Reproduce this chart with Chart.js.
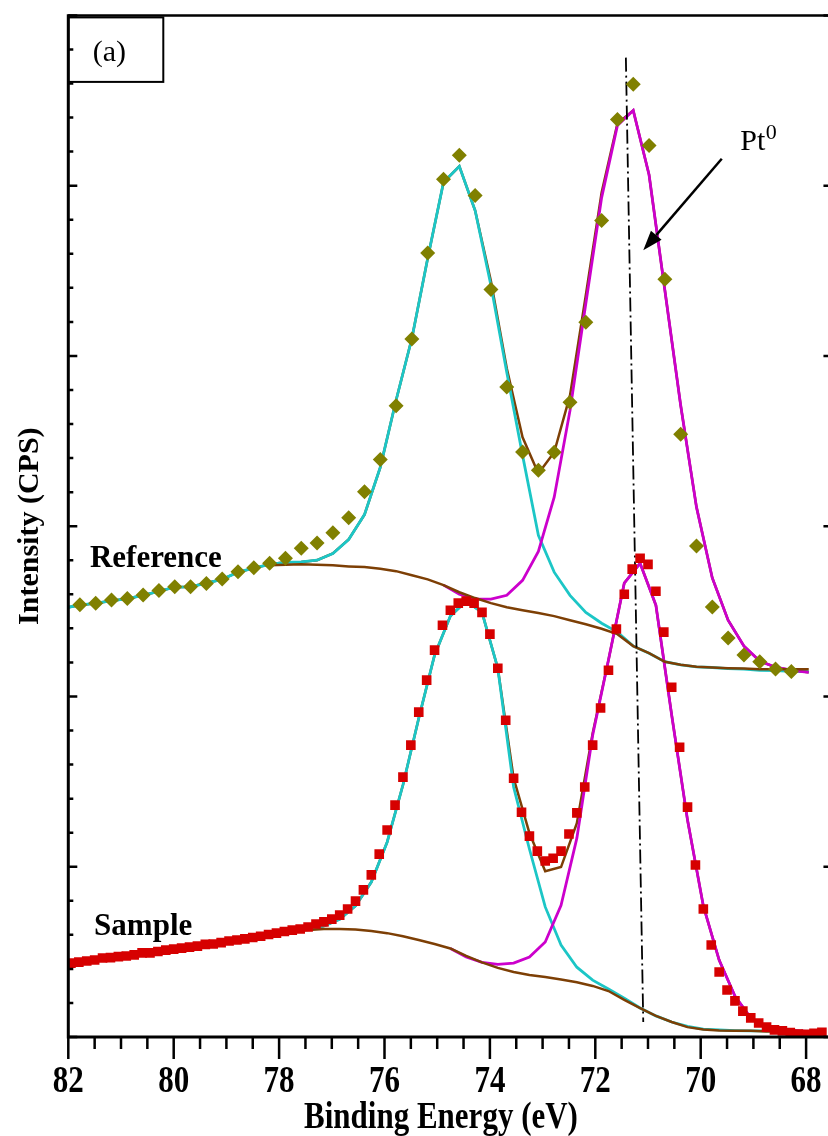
<!DOCTYPE html>
<html>
<head>
<meta charset="utf-8">
<script src="https://cdn.jsdelivr.net/npm/chart.js@4/dist/chart.umd.min.js"></script>
<style>
  html, body { margin: 0; padding: 0; background: #fff; overflow: hidden; width: 828px; height: 1136px; }
  #wrap { position: relative; width: 840px; height: 1136px; }
</style>
</head>
<body>
<div id="wrap"><canvas id="xps" width="840" height="1136"></canvas></div>
<script>
// Pt 4f XPS spectra: binding energy (eV) against intensity (arbitrary units)

// x axis tick labels
const xTickLabels = [82, 80, 78, 76, 74, 72, 70, 68];

// Reference: measured points
const refX = [81.78, 81.48, 81.18, 80.88, 80.58, 80.28, 79.98, 79.68, 79.38, 79.08,
  78.78, 78.48, 78.18, 77.88, 77.58, 77.28, 76.98, 76.68, 76.38, 76.08,
  75.78, 75.48, 75.18, 74.88, 74.58, 74.28, 73.98, 73.68, 73.38, 73.08,
  72.78, 72.48, 72.18, 71.88, 71.58, 71.28, 70.98, 70.68, 70.38, 70.08,
  69.78, 69.48, 69.18, 68.88, 68.58, 68.28];
const refY = [12.69, 12.74, 12.83, 12.88, 12.98, 13.11, 13.22, 13.22, 13.32, 13.45,
  13.66, 13.78, 13.91, 14.06, 14.35, 14.51, 14.81, 15.25, 16.01, 16.96,
  18.54, 20.50, 23.02, 25.19, 25.89, 24.71, 21.95, 19.09, 17.18, 16.64,
  17.17, 18.64, 20.99, 23.98, 26.94, 27.98, 26.18, 22.25, 17.70, 14.42,
  12.63, 11.72, 11.22, 11.02, 10.81, 10.73];

// Reference: fit curves
const refFitX = [82.00, 81.78, 81.48, 81.18, 80.88, 80.58, 80.28, 79.98, 79.68, 79.38, 79.08,
  78.78, 78.48, 78.18, 77.88, 77.58, 77.28, 76.98, 76.68, 76.38, 76.08,
  75.78, 75.48, 75.18, 74.88, 74.58, 74.28, 73.98, 73.68, 73.38, 73.08,
  72.78, 72.48, 72.18, 71.88, 71.58, 71.28, 70.98, 70.68, 70.38, 70.08,
  69.78, 69.48, 69.18, 68.88, 68.58, 68.28, 67.95];
const refPeak1 = [12.62, 12.68, 12.74, 12.81, 12.87, 12.97, 13.09, 13.21, 13.22, 13.33, 13.44,
  13.65, 13.77, 13.88, 13.94, 13.95, 14.00, 14.20, 14.61, 15.34, 16.73,
  18.70, 20.52, 22.87, 25.10, 25.57, 24.27, 22.07, 19.52, 17.08, 14.73,
  13.65, 12.97, 12.47, 12.15, 11.89, 11.48, 11.27, 11.02, 10.93, 10.87,
  10.85, 10.82, 10.80, 10.77, 10.76, 10.74, 10.73];
const refTotal = [12.62, 12.68, 12.74, 12.81, 12.87, 12.97, 13.09, 13.21, 13.22, 13.33, 13.44,
  13.65, 13.77, 13.88, 13.94, 13.95, 14.00, 14.20, 14.61, 15.34, 16.73,
  18.70, 20.52, 22.87, 25.10, 25.57, 24.27, 22.19, 19.64, 17.61, 16.55,
  17.17, 18.84, 21.78, 24.80, 26.83, 27.21, 25.32, 21.93, 18.55, 15.56,
  13.48, 12.24, 11.48, 11.04, 10.86, 10.77, 10.71];
// Reference: background and second component start at 78.18 / 74.88 eV
const refBgX = refFitX.slice(13);
const refBg = [13.85, 13.87, 13.88, 13.87, 13.85, 13.82, 13.80, 13.75, 13.68, 13.56,
  13.44, 13.27, 13.06, 12.89, 12.74, 12.62, 12.53, 12.45, 12.36, 12.24,
  12.12, 11.99, 11.83, 11.48, 11.27, 11.02, 10.93, 10.87, 10.85, 10.83,
  10.82, 10.80, 10.80, 10.80, 10.80];
const refPeak2X = refFitX.slice(24);
const refPeak2 = [13.27, 13.00, 12.86, 12.86, 12.97, 13.41, 14.26, 15.85, 18.40, 21.54,
  24.65, 26.77, 27.21, 25.32, 21.93, 18.55, 15.56, 13.48, 12.24, 11.48,
  11.04, 10.86, 10.77, 10.71];

// Sample: measured points
const smpX = [81.95, 81.80, 81.65, 81.50, 81.35, 81.20, 81.05, 80.90, 80.75, 80.60,
  80.45, 80.30, 80.15, 80.00, 79.85, 79.70, 79.55, 79.40, 79.25, 79.10,
  78.95, 78.80, 78.65, 78.50, 78.35, 78.20, 78.05, 77.90, 77.75, 77.60,
  77.45, 77.30, 77.15, 77.00, 76.85, 76.70, 76.55, 76.40, 76.25, 76.10,
  75.95, 75.80, 75.65, 75.50, 75.35, 75.20, 75.05, 74.90, 74.75, 74.60,
  74.45, 74.30, 74.15, 74.00, 73.85, 73.70, 73.55, 73.40, 73.25, 73.10,
  72.95, 72.80, 72.65, 72.50, 72.35, 72.20, 72.05, 71.90, 71.75, 71.60,
  71.45, 71.30, 71.15, 71.00, 70.85, 70.70, 70.55, 70.40, 70.25, 70.10,
  69.95, 69.80, 69.65, 69.50, 69.35, 69.20, 69.05, 68.90, 68.75, 68.60,
  68.45, 68.30, 68.15, 68.00, 67.85, 67.70];
const smpY = [2.17, 2.20, 2.23, 2.26, 2.32, 2.33, 2.36, 2.38, 2.41, 2.47,
  2.47, 2.51, 2.55, 2.58, 2.61, 2.64, 2.67, 2.72, 2.73, 2.77,
  2.82, 2.85, 2.88, 2.92, 2.96, 3.01, 3.05, 3.10, 3.14, 3.17,
  3.23, 3.32, 3.38, 3.46, 3.58, 3.76, 3.99, 4.32, 4.76, 5.37,
  6.08, 6.81, 7.63, 8.57, 9.54, 10.48, 11.36, 12.09, 12.53, 12.74,
  12.80, 12.74, 12.47, 11.83, 10.83, 9.30, 7.60, 6.60, 5.90, 5.46,
  5.17, 5.25, 5.46, 5.96, 6.58, 7.34, 8.57, 9.66, 10.77, 11.98,
  13.00, 13.74, 14.06, 13.88, 13.09, 11.89, 10.27, 8.51, 6.75, 5.05,
  3.76, 2.70, 1.91, 1.38, 1.06, 0.76, 0.56, 0.41, 0.29, 0.21,
  0.18, 0.13, 0.09, 0.08, 0.11, 0.14];

// Sample: fit curves
const smpFitX = [81.95, 81.65, 81.35, 81.05, 80.75, 80.45, 80.15, 79.85, 79.55, 79.25,
  78.95, 78.65, 78.35, 78.05, 77.75, 77.45, 77.15, 76.85, 76.55, 76.25,
  75.95, 75.65, 75.35, 75.05, 74.75, 74.45, 74.15, 73.85, 73.55, 73.25,
  72.95, 72.65, 72.35, 72.05, 71.75, 71.45, 71.15, 70.85, 70.55, 70.25,
  69.95, 69.65, 69.35, 69.05, 68.75, 68.45, 68.15, 67.85];
const smpPeak1 = [2.17, 2.23, 2.30, 2.36, 2.41, 2.47, 2.54, 2.61, 2.67, 2.73,
  2.82, 2.88, 2.95, 3.02, 3.11, 3.17, 3.26, 3.46, 3.85, 4.55,
  5.72, 7.40, 9.36, 11.21, 12.36, 12.80, 12.47, 10.83, 7.34, 5.52,
  3.82, 2.70, 2.05, 1.67, 1.41, 1.14, 0.85, 0.62, 0.44, 0.31,
  0.23, 0.21, 0.19, 0.18, 0.18, 0.18, 0.16, 0.15];
const smpTotal = [2.17, 2.23, 2.30, 2.36, 2.41, 2.47, 2.54, 2.61, 2.67, 2.73,
  2.82, 2.88, 2.95, 3.02, 3.11, 3.17, 3.26, 3.46, 3.85, 4.55,
  5.72, 7.40, 9.36, 11.21, 12.36, 12.80, 12.47, 10.83, 7.60, 5.99,
  4.87, 4.99, 6.28, 8.92, 11.07, 13.33, 13.91, 12.68, 9.45, 6.37,
  3.85, 2.26, 1.20, 0.56, 0.29, 0.21, 0.18, 0.15];
const smpBgX = smpFitX.slice(14);
const smpBg = [3.11, 3.14, 3.17, 3.17, 3.16, 3.11, 3.05, 2.96, 2.85, 2.73,
  2.60, 2.38, 2.19, 2.03, 1.91, 1.82, 1.76, 1.69, 1.61, 1.50,
  1.35, 1.09, 0.85, 0.62, 0.44, 0.29, 0.22, 0.19, 0.18, 0.18,
  0.16, 0.16, 0.15, 0.15];
const smpPeak2X = smpFitX.slice(24);
const smpPeak2 = [2.60, 2.35, 2.19, 2.13, 2.17, 2.35, 2.79, 3.87, 5.84, 8.86,
  11.07, 13.33, 13.91, 12.68, 9.45, 6.37, 3.85, 2.26, 1.20, 0.56,
  0.29, 0.21, 0.18, 0.15];

// Pt0 position guide (dash-dot) and arrow
const guideX = [71.42, 71.09];
const guideY = [28.76, 0.44];
const arrowX = [69.60, 71.09];
const arrowY = [25.79, 23.10];

// Text annotations
const noteText = ['Reference', 'Sample'];
const noteX = [81.59, 81.51];
const noteY = [13.80, 2.99];
const ptLabelX = 69.25, ptLabelY = 26.06;

const CYAN = '#1cc6c6', MAGENTA = '#cc00cc', BROWN = '#7d3f05', OLIVE = '#808000', RED = '#d60000';
const SERIF = '"Liberation Serif", "Times New Roman", serif';

const pts = (xs, ys) => xs.map((x, i) => ({ x: x, y: ys[i] }));
const curve = (xs, ys, color, w) => ({
  data: pts(xs, ys), borderColor: color, borderWidth: w, pointRadius: 0,
  showLine: true, fill: false, tension: 0
});
const marks = (xs, ys, style, r, color) => ({
  data: pts(xs, ys), showLine: false, pointStyle: style, pointRadius: r,
  pointBackgroundColor: color, pointBorderWidth: 0, pointHoverRadius: r
});

// axis lettering is drawn slightly tall and narrow
function stretchText(ctx, txt, px, py, font, align, sy) {
  ctx.save();
  ctx.translate(px, py);
  ctx.scale(1, sy);
  ctx.font = font;
  ctx.textAlign = align;
  ctx.textBaseline = 'alphabetic';
  ctx.fillText(txt, 0, 0);
  ctx.restore();
}

const decor = {
  id: 'decor',
  afterDraw(chart) {
    const { ctx, chartArea: a, scales: { x, y } } = chart;
    ctx.save();
    ctx.strokeStyle = '#000';
    ctx.fillStyle = '#000';

    // frame
    ctx.lineWidth = 2.5;
    ctx.beginPath();
    ctx.moveTo(a.left, a.top); ctx.lineTo(a.right, a.top);
    ctx.moveTo(a.right, a.top); ctx.lineTo(a.right, a.bottom);
    ctx.stroke();
    ctx.lineWidth = 3;
    ctx.beginPath();
    ctx.moveTo(a.left, a.top - 1.2); ctx.lineTo(a.left, a.bottom); ctx.lineTo(a.right, a.bottom);
    ctx.stroke();

    // x ticks: major every 2 eV, minor every 0.5 eV, pointing outward
    ctx.lineWidth = 2.5;
    ctx.beginPath();
    for (let i = 0; i <= 29; i++) {
      const v = 82 - 0.5 * i;
      const px = x.getPixelForValue(v);
      const major = xTickLabels.includes(v);
      ctx.moveTo(px, a.bottom);
      ctx.lineTo(px, a.bottom + (major ? 22 : 12));
    }
    ctx.stroke();

    // y ticks: inward on the left (major every 5), major only on the right
    ctx.beginPath();
    for (let v = 0; v <= 30; v++) {
      const py = y.getPixelForValue(v);
      const major = v % 5 === 0;
      ctx.moveTo(a.left, py);
      ctx.lineTo(a.left + (major ? 9 : 5), py);
      if (major) { ctx.moveTo(a.right, py); ctx.lineTo(a.right - 9, py); }
    }
    ctx.stroke();

    // tick labels
    xTickLabels.forEach(v => {
      stretchText(ctx, String(v), x.getPixelForValue(v), a.bottom + 54.5, 'bold 31px ' + SERIF, 'center', 1.2);
    });

    // axis titles
    stretchText(ctx, 'Binding Energy (eV)', 441, 1128, 'bold 31px ' + SERIF, 'center', 1.22);
    ctx.save();
    ctx.translate(38, (a.top + a.bottom) / 2);
    ctx.rotate(-Math.PI / 2);
    ctx.font = 'bold 30px ' + SERIF;
    ctx.textAlign = 'center';
    ctx.textBaseline = 'alphabetic';
    ctx.fillText('Intensity (CPS)', 0, 0);
    ctx.restore();

    // panel tag
    ctx.lineWidth = 2;
    ctx.strokeRect(a.left, a.top + 2, 95, 64.5);
    ctx.font = '30px ' + SERIF;
    ctx.textAlign = 'center';
    ctx.textBaseline = 'alphabetic';
    ctx.fillText('(a)', a.left + 41, a.top + 46);

    // curve labels
    ctx.font = 'bold 31px ' + SERIF;
    ctx.textAlign = 'left';
    noteText.forEach((t, i) => ctx.fillText(t, x.getPixelForValue(noteX[i]), y.getPixelForValue(noteY[i])));

    // Pt0 label
    const lx = x.getPixelForValue(ptLabelX), ly = y.getPixelForValue(ptLabelY);
    ctx.font = '30px ' + SERIF;
    ctx.fillText('Pt', lx, ly);
    const w = ctx.measureText('Pt').width;
    ctx.font = '22px ' + SERIF;
    ctx.fillText('0', lx + w + 0.5, ly - 11);

    // arrow
    const x0 = x.getPixelForValue(arrowX[0]), y0 = y.getPixelForValue(arrowY[0]);
    const x1 = x.getPixelForValue(arrowX[1]), y1 = y.getPixelForValue(arrowY[1]);
    const ang = Math.atan2(y1 - y0, x1 - x0);
    const head = 20, half = 7;
    const bx = x1 - head * Math.cos(ang), by = y1 - head * Math.sin(ang);
    ctx.lineWidth = 2.5;
    ctx.beginPath();
    ctx.moveTo(x0, y0); ctx.lineTo(bx, by);
    ctx.stroke();
    ctx.beginPath();
    ctx.moveTo(x1, y1);
    ctx.lineTo(bx + half * Math.sin(ang), by - half * Math.cos(ang));
    ctx.lineTo(bx - half * Math.sin(ang), by + half * Math.cos(ang));
    ctx.closePath();
    ctx.fill();

    ctx.restore();
  }
};

new Chart(document.getElementById('xps'), {
  type: 'scatter',
  data: {
    datasets: [
      marks(refX, refY, 'rectRot', 7.5, OLIVE),
      marks(smpX, smpY, 'rect', 6.8, RED),
      {
        data: pts(guideX, guideY), borderColor: '#000', borderWidth: 1.8,
        borderDash: [14, 4, 2, 4], pointRadius: 0, showLine: true, fill: false
      },
      curve(refBgX, refBg, BROWN, 2.5),
      curve(smpBgX, smpBg, BROWN, 2.5),
      curve(refPeak2X, refPeak2, MAGENTA, 2.8),
      curve(smpPeak2X, smpPeak2, MAGENTA, 2.8),
      curve(refFitX, refPeak1, CYAN, 2.8),
      curve(smpFitX, smpPeak1, CYAN, 2.8),
      curve(refFitX, refTotal, BROWN, 2.5),
      curve(smpFitX, smpTotal, BROWN, 2.5)
    ]
  },
  options: {
    responsive: false,
    animation: false,
    devicePixelRatio: 1,
    events: [],
    layout: { padding: { left: 0, right: 7.55, top: 15.4, bottom: 0 } },
    plugins: { legend: { display: false }, tooltip: { enabled: false } },
    scales: {
      x: {
        type: 'linear', reverse: true, min: 67.5, max: 82,
        grid: { display: false }, border: { display: false }, ticks: { display: false },
        afterFit(s) { s.height = 99; }
      },
      y: {
        type: 'linear', min: 0, max: 30,
        grid: { display: false }, border: { display: false }, ticks: { display: false },
        afterFit(s) { s.width = 68.3; }
      }
    }
  },
  plugins: [decor]
});
</script>
</body>
</html>
